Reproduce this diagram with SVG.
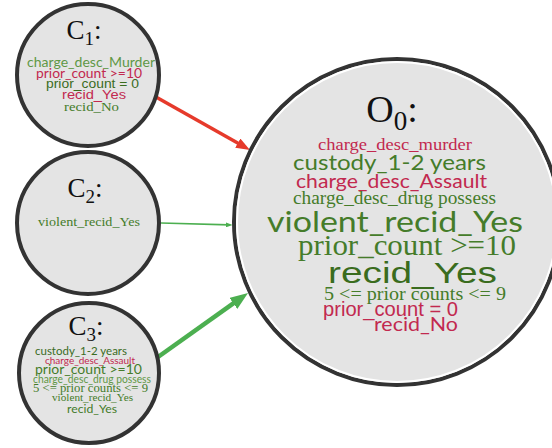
<svg xmlns="http://www.w3.org/2000/svg" width="552" height="448" viewBox="0 0 552 448">
<style>
.node{fill:#e4e4e4;stroke:#333;stroke-width:4}
.ring{fill:none;stroke:#fff;stroke-width:2}
.title{font-family:"Liberation Serif","DejaVu Serif",serif;fill:#111;text-anchor:middle}
.ra{font-family:Lato,"Open Sans",sans-serif;text-anchor:middle}
.ar{font-family:"Liberation Sans",Arial,sans-serif;text-anchor:middle}
.se{font-family:"Liberation Serif","Times New Roman","DejaVu Serif",serif;text-anchor:middle}
.g{fill:#457c2a}
.lg{fill:#5f9846}
.dg{fill:#3a6c1e}
.r{fill:#c2294f}
.edge{fill:none}
</style>
<defs>
<marker id="headRed" viewBox="0 0 4 3" refX="2" refY="1.5" markerWidth="4" markerHeight="3" orient="auto" markerUnits="strokeWidth">
<path d="M0,0 L4,1.5 L0,3 z" fill="#e63a2b"/>
</marker>
<marker id="headGreen" viewBox="0 0 4 3" refX="2" refY="1.5" markerWidth="4" markerHeight="3" orient="auto" markerUnits="strokeWidth">
<path d="M0,0 L4,1.5 L0,3 z" fill="#4caf50"/>
</marker>
</defs>

<g id="connectors">
<path class="edge" d="M156,97 L243.9,146.6" stroke="#e63a2b" stroke-width="3.5" marker-end="url(#headRed)"/>
<path class="edge" d="M161,223 L229,224.9" stroke="#4caf50" stroke-width="1.7" marker-end="url(#headGreen)"/>
<path class="edge" d="M158,357 L240.7,298.2" stroke="#4caf50" stroke-width="4.5" marker-end="url(#headGreen)"/>
</g>

<g id="C1">
<circle class="node" cx="88" cy="75" r="71"/>
<text class="title" x="84" y="39" font-size="27">C<tspan font-size="19" dy="6">1</tspan><tspan dy="-6">:</tspan></text>
<text class="ra lg" x="91" y="67" font-size="12.5" textLength="128" lengthAdjust="spacingAndGlyphs">charge_desc_Murder</text>
<text class="ra r" x="89" y="78" font-size="13" textLength="106" lengthAdjust="spacingAndGlyphs">prior_count &gt;=10</text>
<text class="ar dg" x="92.5" y="88" font-size="12.5" textLength="93" lengthAdjust="spacingAndGlyphs">prior_count = 0</text>
<text class="ar r" x="94" y="99" font-size="12" textLength="64" lengthAdjust="spacingAndGlyphs">recid_Yes</text>
<text class="se g" x="91.5" y="111" font-size="12" textLength="55" lengthAdjust="spacingAndGlyphs">recid_No</text>
</g>

<g id="C2">
<circle class="node" cx="88" cy="223" r="71"/>
<text class="title" x="85" y="197" font-size="27">C<tspan font-size="19" dy="6">2</tspan><tspan dy="-6">:</tspan></text>
<text class="se g" x="89" y="226" font-size="13" textLength="102" lengthAdjust="spacingAndGlyphs">violent_recid_Yes</text>
</g>

<g id="C3">
<circle class="node" cx="89" cy="373" r="70"/>
<text class="title" x="86" y="335" font-size="27">C<tspan font-size="19" dy="6">3</tspan><tspan dy="-6">:</tspan></text>
<text class="ra dg" x="81" y="355" font-size="11.5" textLength="92" lengthAdjust="spacingAndGlyphs">custody_1-2 years</text>
<text class="ra r" x="90" y="364" font-size="9.5" textLength="90" lengthAdjust="spacingAndGlyphs">charge_desc_Assault</text>
<text class="ra g" x="88.5" y="374" font-size="14" textLength="107" lengthAdjust="spacingAndGlyphs">prior_count &gt;=10</text>
<text class="ra lg" x="92" y="383" font-size="10.5" textLength="118" lengthAdjust="spacingAndGlyphs">charge_desc_drug possess</text>
<text class="se g" x="90.5" y="392" font-size="12.5" textLength="115" lengthAdjust="spacingAndGlyphs">5 &lt;= prior counts &lt;= 9</text>
<text class="se g" x="92.5" y="401" font-size="11" textLength="81" lengthAdjust="spacingAndGlyphs">violent_recid_Yes</text>
<text class="ra g" x="92" y="413" font-size="12" textLength="50" lengthAdjust="spacingAndGlyphs">recid_Yes</text>
</g>

<g id="O0">
<circle class="node" cx="397" cy="222" r="163" stroke-width="3.5"/>
<circle class="ring" cx="397" cy="222" r="160"/>
<text class="title" x="392" y="122" font-size="38">O<tspan font-size="27" dy="8">0</tspan><tspan dy="-8">:</tspan></text>
<text class="se r" x="395" y="150" font-size="17.5" textLength="154" lengthAdjust="spacingAndGlyphs">charge_desc_murder</text>
<text class="ra g" x="389.5" y="170" font-size="21" textLength="193" lengthAdjust="spacingAndGlyphs">custody_1-2 years</text>
<text class="ra r" x="391.5" y="188" font-size="19.5" textLength="191" lengthAdjust="spacingAndGlyphs">charge_desc_Assault</text>
<text class="se g" x="394.5" y="204" font-size="18" textLength="203" lengthAdjust="spacingAndGlyphs">charge_desc_drug possess</text>
<text class="ra g" x="395" y="232" font-size="28.5" textLength="256" lengthAdjust="spacingAndGlyphs">violent_recid_Yes</text>
<text class="se g" x="407" y="255" font-size="29" textLength="218" lengthAdjust="spacingAndGlyphs">prior_count &gt;=10</text>
<text class="ar dg" x="412.5" y="283" font-size="30" textLength="169" lengthAdjust="spacingAndGlyphs">recid_Yes</text>
<text class="se g" x="415" y="300" font-size="19" textLength="182" lengthAdjust="spacingAndGlyphs">5 &lt;= prior counts &lt;= 9</text>
<text class="ar r" x="390.5" y="315.5" font-size="20" textLength="135" lengthAdjust="spacingAndGlyphs">prior_count = 0</text>
<text class="ra r" x="416" y="331" font-size="19" textLength="84" lengthAdjust="spacingAndGlyphs">recid_No</text>
</g>
</svg>
